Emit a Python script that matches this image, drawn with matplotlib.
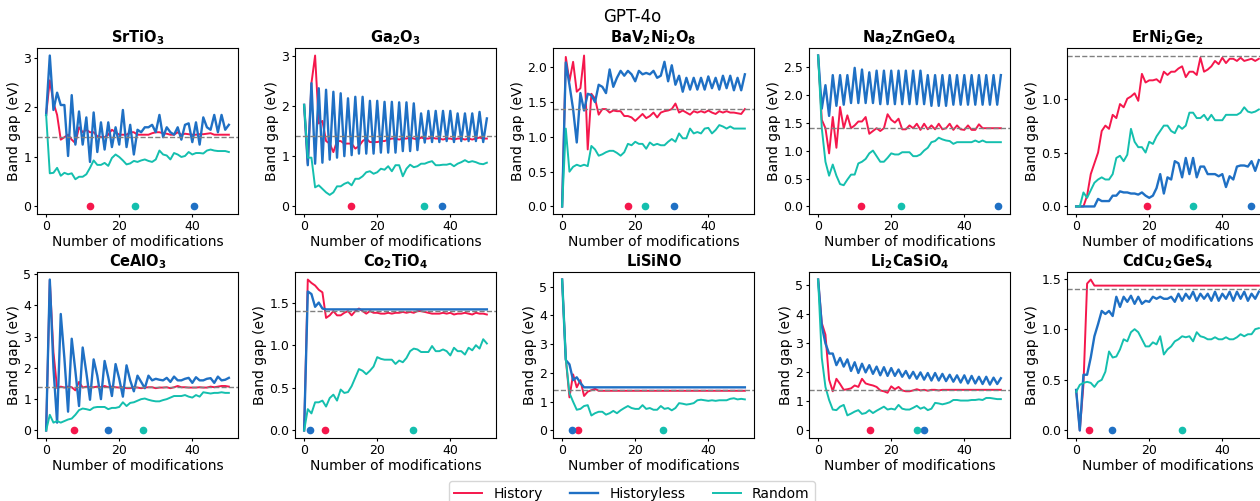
import matplotlib
matplotlib.use("Agg")
import matplotlib.pyplot as plt
import numpy as np

# ---- data (band gap in eV vs. number of modifications) ----
materials = [r"$\mathbf{SrTiO_3}$", r"$\mathbf{Ga_2O_3}$", r"$\mathbf{BaV_2Ni_2O_8}$",
             r"$\mathbf{Na_2ZnGeO_4}$", r"$\mathbf{ErNi_2Ge_2}$", r"$\mathbf{CeAlO_3}$",
             r"$\mathbf{Co_2TiO_4}$", r"$\mathbf{LiSiNO}$", r"$\mathbf{Li_2CaSiO_4}$",
             r"$\mathbf{CdCu_2GeS_4}$"]
series_names = ["History", "Historyless", "Random"]
target_gap = 1.4

srtio3_hist = [1.85, 2.55, 2.1, 1.85, 1.35, 1.4, 1.45, 1.35, 1.28, 1.6, 1.5, 1.55, 1.5, 1.5, 1.42, 1.4, 1.4,
               1.45, 1.55, 1.5, 1.45, 1.45, 1.45, 1.5, 1.5, 1.45, 1.45, 1.45, 1.45, 1.48, 1.5, 1.5, 1.48, 1.47,
               1.45, 1.45, 1.5, 1.45, 1.47, 1.46, 1.45, 1.45, 1.46, 1.46, 1.47, 1.48, 1.45, 1.45, 1.45, 1.45, 1.45]
srtio3_nohist = [1.85, 3.05, 1.95, 2.3, 2.05, 2.05, 1.02, 2.25, 1.25, 1.92, 1.25, 1.8, 0.9, 1.9, 1.1, 1.7, 1.15,
                 1.7, 1.2, 1.6, 1.25, 1.95, 1.2, 1.65, 1.05, 1.55, 1.5, 1.6, 1.6, 1.65, 1.5, 1.85, 1.4, 1.6, 1.5,
                 1.45, 1.6, 1.35, 1.65, 1.68, 1.3, 1.7, 1.25, 1.8, 1.6, 1.55, 1.85, 1.5, 1.85, 1.55, 1.65]
srtio3_rand = [1.85, 0.67, 0.68, 0.78, 0.62, 0.68, 0.65, 0.67, 0.55, 0.6, 0.6, 0.65, 0.78, 0.93, 0.84, 0.84, 0.88,
               0.82, 0.98, 1.05, 1.0, 0.93, 0.85, 0.87, 0.92, 0.9, 0.93, 0.95, 0.92, 0.9, 0.95, 1.13, 1.05, 1.03,
               0.95, 1.08, 1.05, 1.0, 1.02, 1.1, 1.05, 1.08, 1.08, 1.07, 1.13, 1.15, 1.13, 1.12, 1.12, 1.12, 1.1]

ga2o3_hist = [2.02, 0.85, 2.45, 3.0, 1.65, 1.7, 1.3, 1.25, 1.08, 1.3, 1.3, 1.25, 1.25, 1.25, 1.15, 1.2, 1.3,
              1.35, 1.28, 1.28, 1.28, 1.3, 1.3, 1.33, 1.35, 1.35, 1.33, 1.35, 1.35, 1.37, 1.35, 1.33, 1.37, 1.35,
              1.35, 1.37, 1.35, 1.35, 1.33, 1.35, 1.35, 1.33, 1.35, 1.35, 1.33, 1.35, 1.33, 1.35, 1.37, 1.35, 1.35]
ga2o3_nohist = [2.02, 0.82, 2.45, 0.85, 2.35, 0.87, 2.32, 0.93, 2.28, 0.97, 2.25, 1.0, 2.15, 1.02, 2.18, 1.05,
                2.18, 1.05, 2.1, 1.05, 2.1, 1.07, 2.08, 1.07, 2.08, 1.07, 2.07, 1.1, 2.07, 1.1, 2.05, 1.12, 1.85,
                1.27, 1.9, 1.28, 1.9, 1.28, 1.9, 1.3, 1.9, 1.28, 1.85, 1.3, 1.85, 1.3, 1.85, 1.3, 1.88, 1.28, 1.75]
ga2o3_rand = [2.02, 0.97, 0.97, 0.38, 0.42, 0.35, 0.28, 0.23, 0.28, 0.4, 0.4, 0.45, 0.48, 0.42, 0.55, 0.55, 0.6,
              0.68, 0.7, 0.65, 0.68, 0.75, 0.73, 0.8, 0.7, 0.82, 0.82, 0.6, 0.75, 0.83, 0.78, 0.8, 0.85, 0.85,
              0.88, 0.9, 0.82, 0.82, 0.83, 0.83, 0.85, 0.8, 0.85, 0.88, 0.92, 0.88, 0.9, 0.88, 0.85, 0.84, 0.87]

bav2_hist = [0.0, 2.15, 1.8, 2.08, 1.65, 1.7, 2.17, 0.82, 1.62, 1.55, 1.32, 1.4, 1.4, 1.35, 1.38, 1.37, 1.37,
             1.3, 1.3, 1.28, 1.23, 1.28, 1.33, 1.27, 1.3, 1.35, 1.28, 1.35, 1.37, 1.38, 1.4, 1.48, 1.35, 1.38,
             1.35, 1.32, 1.37, 1.35, 1.37, 1.35, 1.38, 1.35, 1.33, 1.37, 1.35, 1.37, 1.35, 1.35, 1.34, 1.33, 1.4]
bav2_nohist = [0.0, 2.07, 1.75, 1.4, 0.92, 1.63, 1.38, 1.62, 1.6, 1.5, 1.75, 1.72, 1.63, 1.97, 1.72, 1.85, 1.95,
               1.88, 1.95, 1.9, 1.8, 1.95, 1.9, 1.92, 1.9, 1.95, 1.85, 1.88, 2.08, 1.8, 2.03, 1.75, 1.88, 1.65,
               1.85, 1.68, 1.85, 1.68, 1.85, 1.68, 1.87, 1.7, 1.85, 1.68, 1.88, 1.7, 1.88, 1.67, 1.85, 1.67, 1.9]
bav2_rand = [0.0, 1.12, 0.5, 0.57, 0.6, 0.58, 0.6, 0.58, 0.87, 0.82, 0.73, 0.75, 0.78, 0.8, 0.8, 0.77, 0.73,
             0.78, 0.9, 0.88, 0.93, 0.9, 0.9, 0.83, 0.92, 0.88, 0.9, 0.88, 0.88, 0.93, 0.97, 0.93, 1.05, 0.98,
             0.98, 1.12, 1.05, 1.07, 1.05, 1.12, 1.13, 1.05, 1.1, 1.17, 1.15, 1.12, 1.15, 1.12, 1.12, 1.12, 1.12]

na2_hist = [2.7, 1.55, 1.4, 0.95, 1.6, 1.05, 1.78, 1.4, 1.63, 1.4, 1.45, 1.52, 1.52, 1.6, 1.3, 1.35, 1.4,
            1.35, 1.4, 1.65, 1.55, 1.5, 1.57, 1.38, 1.38, 1.45, 1.4, 1.48, 1.37, 1.48, 1.38, 1.45, 1.38, 1.48,
            1.38, 1.4, 1.48, 1.37, 1.45, 1.38, 1.37, 1.45, 1.37, 1.37, 1.47, 1.4, 1.4, 1.4, 1.4, 1.4, 1.4]
na2_nohist = [2.7, 1.75, 2.17, 1.62, 2.35, 1.8, 2.35, 1.82, 2.35, 1.85, 2.48, 1.85, 2.45, 1.85, 2.4, 1.85, 2.43,
              1.83, 2.43, 1.83, 2.43, 1.83, 2.43, 1.83, 2.43, 1.83, 2.43, 1.83, 2.43, 1.83, 2.35, 1.8, 2.35,
              1.8, 2.35, 1.8, 2.35, 1.82, 2.35, 1.82, 2.35, 1.82, 2.35, 1.82, 2.35, 1.82, 2.35, 1.82, 2.35,
              1.82, 2.35]
na2_rand = [2.7, 1.4, 0.8, 0.55, 0.75, 0.55, 0.4, 0.38, 0.48, 0.57, 0.57, 0.77, 0.8, 0.85, 0.95, 1.0, 0.9,
            0.8, 0.8, 0.87, 0.95, 0.93, 0.93, 0.97, 0.97, 0.97, 0.9, 0.9, 0.93, 1.0, 1.05, 1.15, 1.17, 1.23,
            1.2, 1.18, 1.17, 1.12, 1.15, 1.15, 1.15, 1.15, 1.15, 1.18, 1.15, 1.18, 1.15, 1.15, 1.15, 1.15, 1.15]

erni_hist = [0.0, 0.0, 0.0, 0.1, 0.3, 0.4, 0.5, 0.7, 0.75, 0.72, 0.85, 0.82, 0.95, 0.92, 1.0, 1.02, 1.05,
             0.98, 1.23, 1.15, 1.17, 1.17, 1.18, 1.15, 1.25, 1.22, 1.25, 1.25, 1.28, 1.3, 1.2, 1.25, 1.25, 1.22,
             1.38, 1.25, 1.27, 1.3, 1.35, 1.32, 1.38, 1.33, 1.37, 1.37, 1.35, 1.38, 1.35, 1.36, 1.37, 1.35, 1.37]
erni_nohist = [0.0, 0.0, 0.0, 0.0, 0.0, 0.0, 0.07, 0.05, 0.05, 0.05, 0.1, 0.1, 0.14, 0.13, 0.13, 0.12, 0.12,
               0.11, 0.13, 0.1, 0.08, 0.1, 0.17, 0.3, 0.12, 0.27, 0.25, 0.42, 0.4, 0.27, 0.45, 0.3, 0.45, 0.27,
               0.37, 0.37, 0.3, 0.3, 0.3, 0.28, 0.3, 0.18, 0.28, 0.25, 0.37, 0.38, 0.38, 0.37, 0.42, 0.33, 0.43]
erni_rand = [0.0, 0.0, 0.13, 0.08, 0.15, 0.22, 0.25, 0.27, 0.25, 0.25, 0.3, 0.45, 0.47, 0.42, 0.48, 0.72, 0.6,
             0.55, 0.55, 0.5, 0.6, 0.58, 0.65, 0.7, 0.75, 0.75, 0.7, 0.68, 0.75, 0.72, 0.75, 0.87, 0.87, 0.82,
             0.82, 0.85, 0.8, 0.85, 0.8, 0.8, 0.8, 0.85, 0.85, 0.85, 0.85, 0.87, 0.92, 0.88, 0.87, 0.88, 0.9]

cealo3_hist = [0.0, 4.8, 2.5, 1.35, 1.4, 1.37, 1.4, 1.38, 1.28, 1.55, 1.37, 1.4, 1.38, 1.38, 1.4, 1.38, 1.42,
               1.38, 1.4, 1.38, 1.37, 1.38, 1.35, 1.35, 1.38, 1.37, 1.35, 1.37, 1.38, 1.38, 1.35, 1.37, 1.37,
               1.38, 1.35, 1.38, 1.42, 1.38, 1.38, 1.37, 1.37, 1.37, 1.38, 1.37, 1.37, 1.4, 1.38, 1.4, 1.42,
               1.42, 1.4]
cealo3_nohist = [0.0, 4.82, 2.0, 0.25, 3.72, 2.3, 0.6, 2.93, 1.9, 0.78, 2.65, 1.85, 0.98, 2.27, 1.75, 1.0, 2.22,
                 1.7, 1.1, 2.12, 1.65, 1.08, 2.08, 1.6, 1.25, 1.75, 1.55, 1.35, 1.75, 1.6, 1.65, 1.62, 1.6, 1.68,
                 1.55, 1.72, 1.6, 1.6, 1.65, 1.68, 1.52, 1.7, 1.6, 1.6, 1.65, 1.67, 1.52, 1.72, 1.6, 1.62, 1.68]
cealo3_rand = [0.0, 0.5, 0.25, 0.3, 0.25, 0.3, 0.35, 0.38, 0.5, 0.65, 0.7, 0.68, 0.65, 0.73, 0.75, 0.75, 0.75,
               0.68, 0.72, 0.72, 0.75, 0.9, 0.78, 0.88, 0.9, 0.95, 1.0, 1.02, 0.98, 0.95, 0.93, 0.93, 0.97, 1.0,
               1.05, 1.1, 1.1, 1.1, 1.13, 1.08, 1.05, 1.13, 1.08, 1.22, 1.2, 1.18, 1.2, 1.2, 1.22, 1.2, 1.2]

co2_hist = [0.0, 1.77, 1.73, 1.7, 1.65, 1.62, 1.32, 1.35, 1.4, 1.35, 1.35, 1.38, 1.4, 1.35, 1.4, 1.43, 1.4,
            1.37, 1.4, 1.38, 1.38, 1.37, 1.37, 1.38, 1.37, 1.38, 1.38, 1.39, 1.38, 1.39, 1.38, 1.4, 1.4, 1.39,
            1.38, 1.37, 1.37, 1.37, 1.38, 1.37, 1.38, 1.36, 1.37, 1.37, 1.38, 1.37, 1.36, 1.38, 1.37, 1.37, 1.36]
co2_nohist = [0.0, 1.63, 1.6, 1.45, 1.5, 1.43, 1.42, 1.42, 1.42, 1.42, 1.42, 1.42, 1.42, 1.42, 1.42, 1.42, 1.42,
              1.42, 1.42, 1.42, 1.42, 1.42, 1.42, 1.42, 1.42, 1.42, 1.42, 1.42, 1.42, 1.42, 1.42, 1.42, 1.42,
              1.42, 1.42, 1.42, 1.42, 1.42, 1.42, 1.42, 1.42, 1.42, 1.42, 1.42, 1.42, 1.42, 1.42, 1.42, 1.42,
              1.42, 1.42]
co2_rand = [0.0, 0.25, 0.2, 0.33, 0.33, 0.35, 0.28, 0.38, 0.42, 0.35, 0.48, 0.44, 0.45, 0.52, 0.62, 0.72, 0.7,
            0.66, 0.7, 0.75, 0.86, 0.84, 0.83, 0.83, 0.83, 0.78, 0.82, 0.8, 0.85, 0.93, 0.96, 0.95, 0.92, 0.92,
            0.92, 0.99, 0.93, 0.93, 0.95, 0.93, 0.88, 0.97, 0.93, 0.93, 0.89, 0.97, 0.94, 1.0, 0.96, 1.07, 1.02]

lisino_hist = [5.25, 2.5, 1.15, 1.95, 1.5, 1.75, 1.2, 1.35, 1.4, 1.45, 1.38, 1.38, 1.38, 1.38, 1.38, 1.38,
               1.38, 1.38, 1.38, 1.38, 1.38, 1.38, 1.38, 1.38, 1.38, 1.38, 1.38, 1.38, 1.38, 1.38, 1.38, 1.38,
               1.38, 1.38, 1.38, 1.38, 1.38, 1.38, 1.38, 1.38, 1.38, 1.38, 1.38, 1.38, 1.38, 1.38, 1.38, 1.38,
               1.38, 1.38, 1.38]
lisino_nohist = [5.25, 2.45, 2.3, 1.75, 1.85, 1.65, 1.5, 1.5, 1.5, 1.5, 1.5, 1.5, 1.5, 1.5, 1.5, 1.5, 1.5, 1.5,
                 1.5, 1.5, 1.5, 1.5, 1.5, 1.5, 1.5, 1.5, 1.5, 1.5, 1.5, 1.5, 1.5, 1.5, 1.5, 1.5, 1.5, 1.5, 1.5,
                 1.5, 1.5, 1.5, 1.5, 1.5, 1.5, 1.5, 1.5, 1.5, 1.5, 1.5, 1.5, 1.5, 1.5]
lisino_rand = [5.25, 2.5, 1.3, 1.0, 0.72, 0.75, 0.85, 0.88, 0.52, 0.6, 0.65, 0.65, 0.55, 0.6, 0.68, 0.6, 0.7,
               0.78, 0.85, 0.78, 0.75, 0.75, 0.88, 0.75, 0.78, 0.72, 0.72, 0.85, 0.75, 0.78, 0.7, 0.78, 0.95,
               0.93, 0.9, 0.92, 0.95, 1.05, 1.07, 1.05, 1.03, 1.05, 1.03, 1.05, 1.05, 1.05, 1.1, 1.12, 1.08,
               1.1, 1.08]

li2_hist = [5.2, 3.7, 3.3, 1.75, 1.35, 1.78, 1.6, 1.4, 1.42, 1.45, 1.55, 1.5, 1.78, 1.62, 1.58, 1.55, 1.5,
            1.38, 1.35, 1.3, 1.52, 1.42, 1.5, 1.38, 1.35, 1.35, 1.38, 1.42, 1.38, 1.4, 1.37, 1.4, 1.4, 1.38,
            1.4, 1.4, 1.4, 1.4, 1.4, 1.4, 1.4, 1.4, 1.4, 1.4, 1.4, 1.4, 1.4, 1.4, 1.4, 1.4, 1.4]
li2_nohist = [5.2, 3.6, 3.0, 2.65, 2.65, 2.25, 2.5, 2.2, 2.45, 2.05, 2.35, 1.98, 2.3, 2.0, 2.25, 1.95, 2.2,
              1.9, 2.18, 1.88, 2.15, 1.88, 2.1, 1.85, 2.05, 1.8, 2.02, 1.78, 2.0, 1.75, 1.98, 1.72, 1.98, 1.72,
              1.95, 1.7, 1.92, 1.68, 1.9, 1.65, 1.9, 1.62, 1.88, 1.62, 1.85, 1.6, 1.85, 1.58, 1.82, 1.6, 1.8]
li2_rand = [5.2, 2.5, 1.5, 1.05, 0.72, 0.7, 0.82, 0.88, 0.52, 0.58, 0.65, 0.7, 0.57, 0.6, 0.7, 0.6, 0.68,
            0.75, 0.82, 0.72, 0.75, 0.72, 0.88, 0.75, 0.72, 0.72, 0.78, 0.85, 0.75, 0.8, 0.7, 0.75, 0.95, 0.93,
            0.9, 0.93, 0.97, 1.05, 1.05, 1.03, 1.03, 1.03, 1.05, 1.05, 1.07, 1.05, 1.12, 1.12, 1.1, 1.08, 1.08]

cdcu_hist = [0.4, 0.0, 0.45, 1.45, 1.49, 1.43, 1.43, 1.43, 1.43, 1.43, 1.43, 1.43, 1.43, 1.43, 1.43, 1.43,
             1.43, 1.43, 1.43, 1.43, 1.43, 1.43, 1.43, 1.43, 1.43, 1.43, 1.43, 1.43, 1.43, 1.43, 1.43, 1.43,
             1.43, 1.43, 1.43, 1.43, 1.43, 1.43, 1.43, 1.43, 1.43, 1.43, 1.43, 1.43, 1.43, 1.43, 1.43, 1.43,
             1.43, 1.43, 1.43]
cdcu_nohist = [0.4, 0.0, 0.55, 0.55, 0.72, 0.93, 1.05, 1.18, 1.15, 1.18, 1.13, 1.32, 1.22, 1.32, 1.27, 1.33,
               1.25, 1.32, 1.25, 1.28, 1.27, 1.32, 1.3, 1.32, 1.3, 1.3, 1.32, 1.27, 1.35, 1.28, 1.35, 1.3, 1.37,
               1.28, 1.35, 1.3, 1.35, 1.28, 1.37, 1.28, 1.35, 1.3, 1.37, 1.28, 1.37, 1.3, 1.37, 1.28, 1.35, 1.3,
               1.37]
cdcu_rand = [0.38, 0.45, 0.47, 0.48, 0.47, 0.43, 0.48, 0.5, 0.58, 0.78, 0.72, 0.73, 0.8, 0.9, 0.88, 0.97, 1.0,
             0.97, 0.9, 0.83, 0.83, 0.87, 0.85, 0.93, 0.75, 0.8, 0.83, 0.88, 0.9, 0.93, 0.92, 0.93, 0.88, 0.97,
             0.93, 0.92, 0.9, 0.9, 0.92, 0.9, 0.9, 0.92, 0.9, 0.9, 0.92, 0.95, 0.93, 0.95, 0.95, 1.0, 1.01]

# step at which each method first hits the target (dots on y = 0): History, Historyless, Random
hit_hist = [12, 12.7, 18.0, 11.6, 19.5, 7.5, 5.7, 4.4, 14.2, 3.6]
hit_nohist = [40.5, 37.6, 30.7, 49.1, 47.9, 16.8, 1.55, 2.7, 29.1, 9.7]
hit_rand = [24.2, 32.7, 22.8, 22.8, 32.1, 26.5, 29.8, 27.7, 27.1, 29.0]

all_hist = [srtio3_hist, ga2o3_hist, bav2_hist, na2_hist, erni_hist,
            cealo3_hist, co2_hist, lisino_hist, li2_hist, cdcu_hist]
all_nohist = [srtio3_nohist, ga2o3_nohist, bav2_nohist, na2_nohist, erni_nohist,
              cealo3_nohist, co2_nohist, lisino_nohist, li2_nohist, cdcu_nohist]
all_rand = [srtio3_rand, ga2o3_rand, bav2_rand, na2_rand, erni_rand,
            cealo3_rand, co2_rand, lisino_rand, li2_rand, cdcu_rand]

colors = ["#F5174C", "#1F70C4", "#14BFAE"]
widths = [1.4, 1.7, 1.4]

W, H = 1260, 501
fig = plt.figure(figsize=(W / 100, H / 100), dpi=100)

lefts_px = [37, 295, 553, 809, 1067]
tops_px = [48, 272]
ax_w, ax_h = 201, 166

handles = []
for i, name in enumerate(materials):
    row, col = divmod(i, 5)
    ax = fig.add_axes([lefts_px[col] / W, 1 - (tops_px[row] + ax_h) / H, ax_w / W, ax_h / H])
    hs = []
    for ser, c, lw in zip([all_hist[i], all_nohist[i], all_rand[i]], colors, widths):
        h, = ax.plot(np.arange(len(ser)), ser, color=c, lw=lw)
        hs.append(h)
    ax.axhline(target_gap, color="gray", ls="--", lw=1)
    for hx, c in zip([hit_hist[i], hit_nohist[i], hit_rand[i]], colors):
        ax.plot(hx, 0, "o", color=c, ms=4.5, zorder=5)
    ax.set_title(name, fontsize=10.5, pad=4)
    ax.set_xlabel("Number of modifications", fontsize=10, labelpad=1.5)
    ax.set_ylabel("Band gap (eV)", fontsize=10, labelpad=2)
    ax.set_xticks([0, 20, 40])
    ax.tick_params(labelsize=9, length=2.5, pad=1.5)
    if i == 0:
        handles = hs

fig.text(0.502, 1 - 17 / H, "GPT-4o", ha="center", va="center", fontsize=12)
fig.legend(handles, series_names, loc="upper center", bbox_to_anchor=(0.5016, 1 - 481 / H),
           ncol=3, fontsize=10, borderaxespad=0)

fig.savefig("out.png", dpi=100)
